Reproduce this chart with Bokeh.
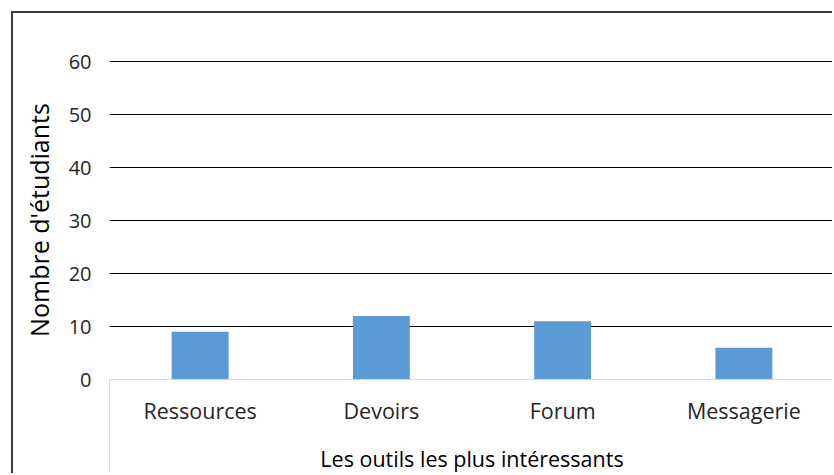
from bokeh.plotting import figure
from bokeh.models import Range1d, FixedTicker, ColumnDataSource
from bokeh.embed import file_html
from bokeh.resources import INLINE

# ---- data ----
categories = ["Ressources", "Devoirs", "Forum", "Messagerie"]
values = [9, 12, 11, 6]
y_ticks = [0, 10, 20, 30, 40, 50, 60]
x_title = "Les outils les plus intéressants"
y_title = "Nombre d'étudiants"

BAR = "#5b9bd5"
TXT = "#262626"
FONT = "Open Sans"

positions = [i + 0.5 for i in range(len(categories))]
src = ColumnDataSource(dict(x=positions, top=values, cat=categories))

p = figure(width=821, height=462, output_backend="svg", toolbar_location=None,
           x_range=Range1d(0, len(categories)),
           y_range=Range1d(y_ticks[0], y_ticks[-1] + 0.2),
           min_border_left=96, min_border_right=0, min_border_top=47, min_border_bottom=94)
p.outline_line_color = None
p.background_fill_color = "white"
p.border_fill_color = "white"
# outer chart border: only left/top edges are visible in the cropped reference
p.styles = {"border-left": "2px solid #3a3a3a", "border-top": "2px solid #3a3a3a",
            "margin-left": "11px", "margin-top": "11px"}

p.vbar(x="x", top="top", bottom=0, width=0.314, source=src,
       fill_color=BAR, line_color=None)

# grid
p.xgrid.visible = False
p.ygrid.ticker = FixedTicker(ticks=y_ticks[1:])
p.ygrid.grid_line_color = "black"
p.ygrid.grid_line_width = 1

# y axis
ya = p.yaxis[0]
ya.ticker = FixedTicker(ticks=y_ticks)
ya.axis_line_color = None
ya.major_tick_line_color = None
ya.minor_tick_line_color = None
ya.major_tick_in = 0
ya.major_tick_out = 0
ya.major_label_standoff = 18
ya.major_label_text_font = FONT
ya.major_label_text_font_size = "20px"
ya.major_label_text_color = TXT
ya.axis_label = y_title
ya.axis_label_text_font = FONT
ya.axis_label_text_font_size = "25px"
ya.axis_label_text_font_style = "normal"
ya.axis_label_text_color = "black"
ya.axis_label_standoff = 10

# x axis
TICK_OUT = 96
xa = p.xaxis[0]
xa.ticker = FixedTicker(ticks=positions, minor_ticks=[0])
xa.major_label_overrides = {pos: c for pos, c in zip(positions, categories)}
xa.axis_line_color = "#d9d9d9"
xa.axis_line_width = 1
xa.major_tick_line_color = None
xa.major_tick_in = 0
xa.major_tick_out = 0
xa.minor_tick_line_color = "#d9d9d9"
xa.minor_tick_in = 0
xa.minor_tick_out = TICK_OUT
xa.major_label_standoff = 16 - TICK_OUT
xa.major_label_text_font = FONT
xa.major_label_text_font_size = "21.5px"
xa.major_label_text_color = TXT
xa.axis_label = x_title
xa.axis_label_text_font = FONT
xa.axis_label_text_font_size = "21.5px"
xa.axis_label_text_font_style = "normal"
xa.axis_label_text_color = "black"
xa.axis_label_standoff = 16

open("out.html", "w").write(file_html(p, INLINE))
